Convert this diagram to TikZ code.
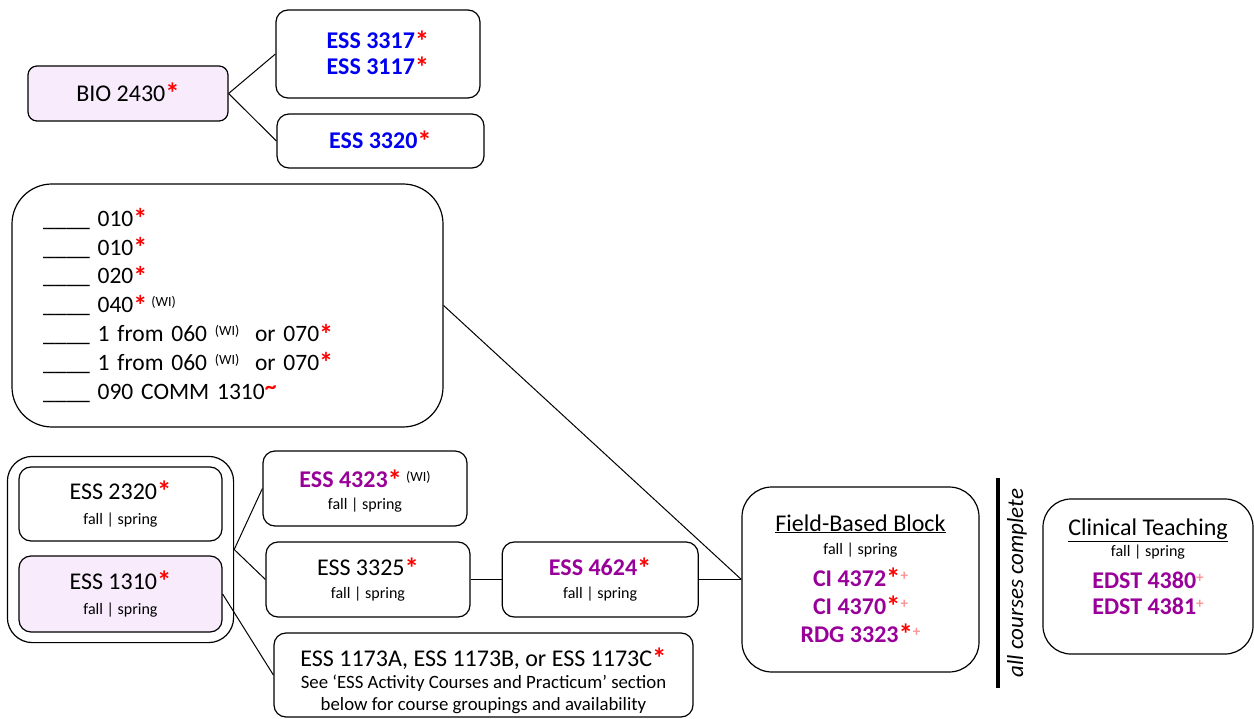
\documentclass[tikz,border=0pt]{standalone}
\usepackage{fontspec}
\setmainfont{Carlito}
\usetikzlibrary{positioning,fit}
\definecolor{dpblue}{RGB}{0,0,240}
\definecolor{dppurple}{RGB}{153,0,153}
\definecolor{dpred}{RGB}{255,0,0}
\definecolor{dppink}{RGB}{250,150,150}
\definecolor{dplav}{RGB}{248,236,252}
\newcommand{\redstar}{\textbf{\textcolor{dpred}{\raisebox{-2.5pt}{\scalebox{1.2}{*}}}}}
\newcommand{\wimark}{\raisebox{6pt}{\fontsize{14}{14}\selectfont(WI)}}
\newcommand{\plusmark}{\raisebox{6pt}{\fontsize{15}{15}\selectfont\bfseries\textcolor{dppink}{+}}}
\newcommand{\tildemark}{\raisebox{5pt}{\textbf{\textcolor{dpred}{\textasciitilde}}}}
\newcommand{\bluecourse}[1]{\textcolor{dpblue}{\textbf{#1}}}
\newcommand{\purplecourse}[1]{\textcolor{dppurple}{\textbf{#1}}}
\newcommand{\termline}{{\fontsize{16}{18}\selectfont fall | spring}}
\newcommand{\noteline}[1]{{\fontsize{18.8}{22}\selectfont #1}}
\tikzset{
  dp box/.style={draw=black,line width=1.2pt,rounded corners=12pt,align=center,
    inner sep=2pt,font=\fontsize{24}{26}\selectfont},
  dp core/.style={dp box,fill=dplav,rounded corners=9pt},
  dp block/.style={dp box,rounded corners=30pt},
  dp group/.style={draw=black,line width=1.2pt,rounded corners=25pt},
  dp text/.style={align=center,inner sep=0pt,font=\fontsize{24}{26}\selectfont},
  dp link/.style={line width=1pt,black},
  dp note/.style={font=\fontsize{23}{26}\selectfont\itshape,inner sep=0pt}
}
\begin{document}
\begin{tikzpicture}[x=1pt,y=-1pt]
  \useasboundingbox (0,0) rectangle (1254,719);

  % Biology track
  \node[dp core,minimum width=200pt,minimum height=55pt] (bio) at (128,93.5) {BIO 2430\redstar};
  \node[dp box,minimum width=204pt,minimum height=88pt] (anat) at (378,54)
    {\bluecourse{ESS 3317}\redstar\\ \bluecourse{ESS 3117}\redstar};
  \node[dp box,minimum width=207pt,minimum height=54pt] (biomech) at (380.5,141)
    {\bluecourse{ESS 3320}\redstar};
  \draw[dp link] (bio.east) -- (anat.west);
  \draw[dp link] (bio.east) -- (biomech.west);

  % Core curriculum checklist
  \node[dp box,rounded corners=40pt,minimum width=431pt,minimum height=243pt,
    text width=369pt,inner xsep=31pt,align=left,font=\fontsize{23.5}{28.8}\selectfont]
    (core) at (227.5,305.5) {%
    \_\_\_\_ 010\redstar\\
    \_\_\_\_ 010\redstar\\
    \_\_\_\_ 020\redstar\\
    \_\_\_\_ 040\redstar\,\wimark\\
    \_\_\_\_ 1 from 060 \wimark\ \ or 070\redstar\\
    \_\_\_\_ 1 from 060 \wimark\ \ or 070\redstar\\
    \_\_\_\_ 090 COMM 1310\tildemark};

  % ESS sequence
  \node[dp box,minimum width=203pt,minimum height=74pt] (intro) at (120.5,504)
    {ESS 2320\redstar\\[-1pt] \termline};
  \node[dp core,rounded corners=12pt,minimum width=203pt,minimum height=76pt] (found) at (120.5,594)
    {ESS 1310\redstar\\[-1pt] \termline};
  \node[dp group,inner xsep=11pt,inner ysep=10pt,fit=(intro)(found)] (pair) {};
  \node[dp box,minimum width=204pt,minimum height=75pt] (adapted) at (365,488.5)
    {\mbox{}\\[-3pt] \purplecourse{ESS 4323}\redstar\,\wimark\\[-4pt] \termline};
  \node[dp box,minimum width=204pt,minimum height=75pt] (motor) at (368,579.5)
    {ESS 3325\redstar\\[-3pt] \termline};
  \node[dp box,minimum width=196pt,minimum height=75pt,right=31pt of motor] (methods)
    {\purplecourse{ESS 4624}\redstar\\[-3pt] \termline};
  \node[dp box,minimum width=419pt,minimum height=84pt] (activity) at (483.5,675) {};
  \node[dp text] (activitytext) at ([yshift=-6pt]activity.center)
    {ESS 1173A, ESS 1173B, or ESS 1173C\redstar\\[-4pt]
     \noteline{See `ESS Activity Courses and Practicum' section}\\[-4pt]
     \noteline{below for course groupings and availability}};

  \draw[dp link] (pair.east) -- (adapted.west);
  \draw[dp link] (pair.east) -- (motor.west);
  \draw[dp link] (found.east) -- (activity.west);
  \draw[dp link] (motor.east) -- (methods.west);

  % Field-based block and clinical teaching
  \node[dp block,minimum width=237pt,minimum height=185pt] (field) at (860.5,579.5)
    {\underline{Field-Based Block}\\[-3pt] \termline\\[6pt]
     \purplecourse{CI 4372}\redstar\plusmark\\[2pt]
     \purplecourse{CI 4370}\redstar\plusmark\\[2pt]
     \purplecourse{RDG 3323}\redstar\plusmark};
  \draw[dp link] (methods.east) -- (field.west);
  \draw[dp link] (core.east) -- (field.west);

  \node[fill=black,inner sep=0pt,minimum width=3.5pt,minimum height=210pt] (bar) at (998,583) {};
  \node[dp note,rotate=90] (allcomplete) at (1017,583) {all courses complete};

  \node[dp block,rounded corners=28pt,minimum width=210pt,minimum height=155pt] (clinical) at (1148,576.5)
    {\underline{Clinical Teaching}\\[-5pt] \termline\\[6pt]
     \purplecourse{EDST 4380}\plusmark\\[0pt]
     \purplecourse{EDST 4381}\plusmark\\[-6pt] \mbox{}};
\end{tikzpicture}
\end{document}
